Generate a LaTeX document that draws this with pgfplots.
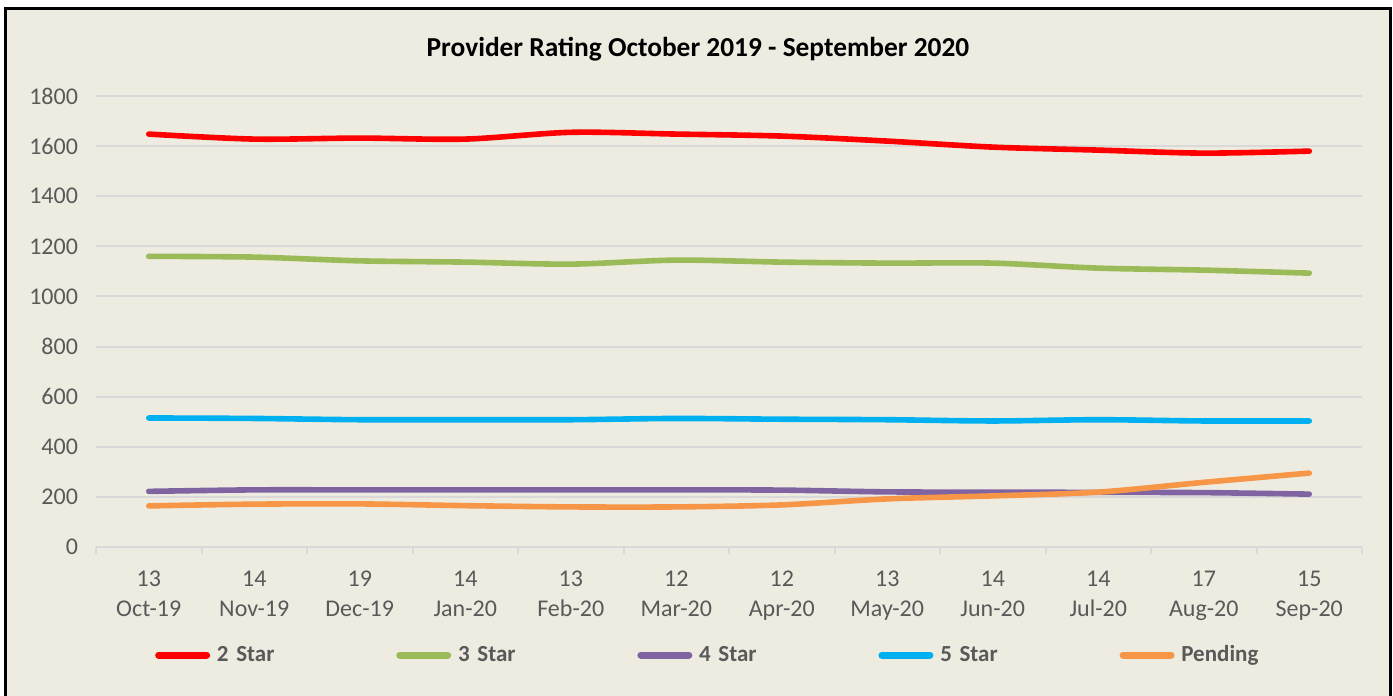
\documentclass[border=0pt]{standalone}
\usepackage{pgfplots}
\usepackage{pgfplotstable}
\pgfplotsset{compat=1.18}
\usepackage{fontspec}
\setmainfont{Carlito}
\definecolor{bg}{HTML}{EEECE1}
\definecolor{gridc}{HTML}{D9D9D9}
\definecolor{textc}{HTML}{595959}
\definecolor{c2}{HTML}{FF0000}
\definecolor{c3}{HTML}{9BBB59}
\definecolor{c4}{HTML}{8064A2}
\definecolor{c5}{HTML}{00B0F0}
\definecolor{cp}{HTML}{F79646}
\pgfplotstableread{
x two three four five pending
0 1648 1160 222 515 164
1 1628 1157 228 513 171
2 1632 1142 228 508 172
3 1628 1137 228 508 165
4 1655 1129 228 508 160
5 1648 1145 228 513 160
6 1640 1137 227 510 168
7 1620 1133 220 508 192
8 1596 1133 219 503 204
9 1584 1113 218 508 219
10 1572 1105 217 503 258
11 1580 1093 211 503 295
}\datatable
\begin{document}
\begin{tikzpicture}[x=0.5pt,y=0.5pt]
\useasboundingbox (0,0) rectangle (1393,696);
\fill[white] (0,0) rectangle (1393,696);
\fill[bg] (5,-10) rectangle (1390,687);
\draw[black, line width=1.5pt] (5,-10) rectangle (1390,687);
\node[font=\bfseries\fontsize{13.7}{16}\selectfont, text=black] at (698,647) {Provider Rating October 2019 - September 2020};
\begin{axis}[
  at={(48pt,74.5pt)}, anchor=south west,
  scale only axis, width=633pt, height=225.5pt,
  xmin=-0.5, xmax=11.5, ymin=0, ymax=1800,
  clip=false,
  xtick={0,...,11},
  xticklabels={13\\Oct-19,14\\Nov-19,19\\Dec-19,14\\Jan-20,13\\Feb-20,12\\Mar-20,12\\Apr-20,13\\May-20,14\\Jun-20,14\\Jul-20,17\\Aug-20,15\\Sep-20},
  minor xtick={-0.5,0.5,...,11.5},
  ytick={0,200,...,1800},
  ymajorgrids,
  grid style={color=gridc, line width=1pt},
  axis line style={draw=none},
  xtick pos=lower, ytick pos=left,
  tick align=outside,
  major tick length=0pt,
  minor tick length=3.5pt,
  minor tick style={color=gridc, line width=1pt},
  tick label style={font=\fontsize{12}{15}\selectfont, text=textc},
  xticklabel style={align=center, yshift=-8.5pt},
  yticklabel style={xshift=-5.5pt},
  /pgf/number format/assume math mode=true,
  /pgf/number format/1000 sep={},
  legend columns=5,
  legend cell align=left,
  legend style={draw=none, fill=none, at={(axis description cs:0.0442,-0.2395)}, anchor=west,
    inner sep=0pt, font=\bfseries\fontsize{11.5}{14}\selectfont, text=textc,
    nodes={text width=86.25pt, inner xsep=2pt, inner ysep=0pt}},
  legend image code/.code={\draw[line width=3.5pt, line cap=round] (1.75pt,0pt) -- (25.75pt,0pt); \path (0pt,0pt) (27.5pt,0pt);},
  every axis plot/.append style={line width=2.8pt, line cap=round, smooth, no marks},
]
\addplot[c2] table[x=x,y=two]{\datatable};
\addlegendentry{2 Star}
\addplot[c3] table[x=x,y=three]{\datatable};
\addlegendentry{3 Star}
\addplot[c4] table[x=x,y=four]{\datatable};
\addlegendentry{4 Star}
\addplot[c5] table[x=x,y=five]{\datatable};
\addlegendentry{5 Star}
\addplot[cp] table[x=x,y=pending]{\datatable};
\addlegendentry{Pending}
\end{axis}
\end{tikzpicture}
\end{document}
